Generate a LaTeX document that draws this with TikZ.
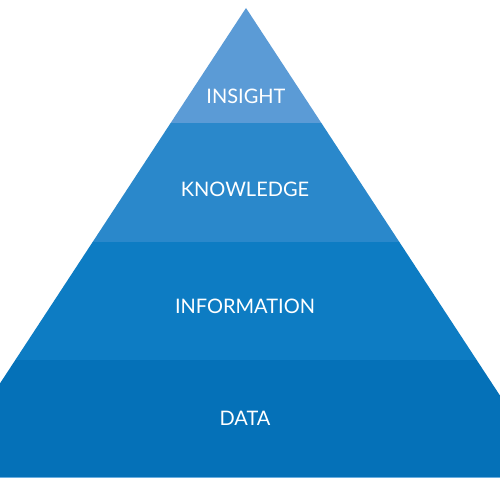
\documentclass[tikz,border=0pt]{standalone}
\usepackage{fontspec}
\setmainfont{Lato}
\definecolor{cInsight}{HTML}{5B9BD6}
\definecolor{cKnow}{HTML}{2A88CB}
\definecolor{cInfo}{HTML}{0D7CC3}
\definecolor{cData}{HTML}{0571B8}
\definecolor{cEdge}{HTML}{6AAEE0}
\begin{document}
\begin{tikzpicture}[x=1pt,y=-1pt,
  lbl/.style={text=white,font=\fontsize{20}{24}\selectfont,inner sep=0pt,anchor=center}]
\useasboundingbox (0,0) rectangle (500,500);
\fill[white] (0,0) rectangle (500,500);
\begin{scope}
  \clip (0,0) rectangle (500,500);
  \clip (246,8) -- (554,478) -- (-62,478) -- cycle;
  \fill[cInsight] (-100,0) rectangle (600,123);
  \fill[cKnow] (-100,123) rectangle (600,242);
  \fill[cInfo] (-100,242) rectangle (600,360);
  \fill[cData] (-100,360) rectangle (600,478);
  \fill[cEdge] (-100,476.8) rectangle (600,478);
\end{scope}
\node[lbl] (insight) at (246,96) {INSIGHT};
\node[lbl] (knowledge) at (245,189) {KNOWLEDGE};
\node[lbl] (information) at (245,306) {INFORMATION};
\node[lbl] (data) at (245,418) {DATA};
\end{tikzpicture}
\end{document}
